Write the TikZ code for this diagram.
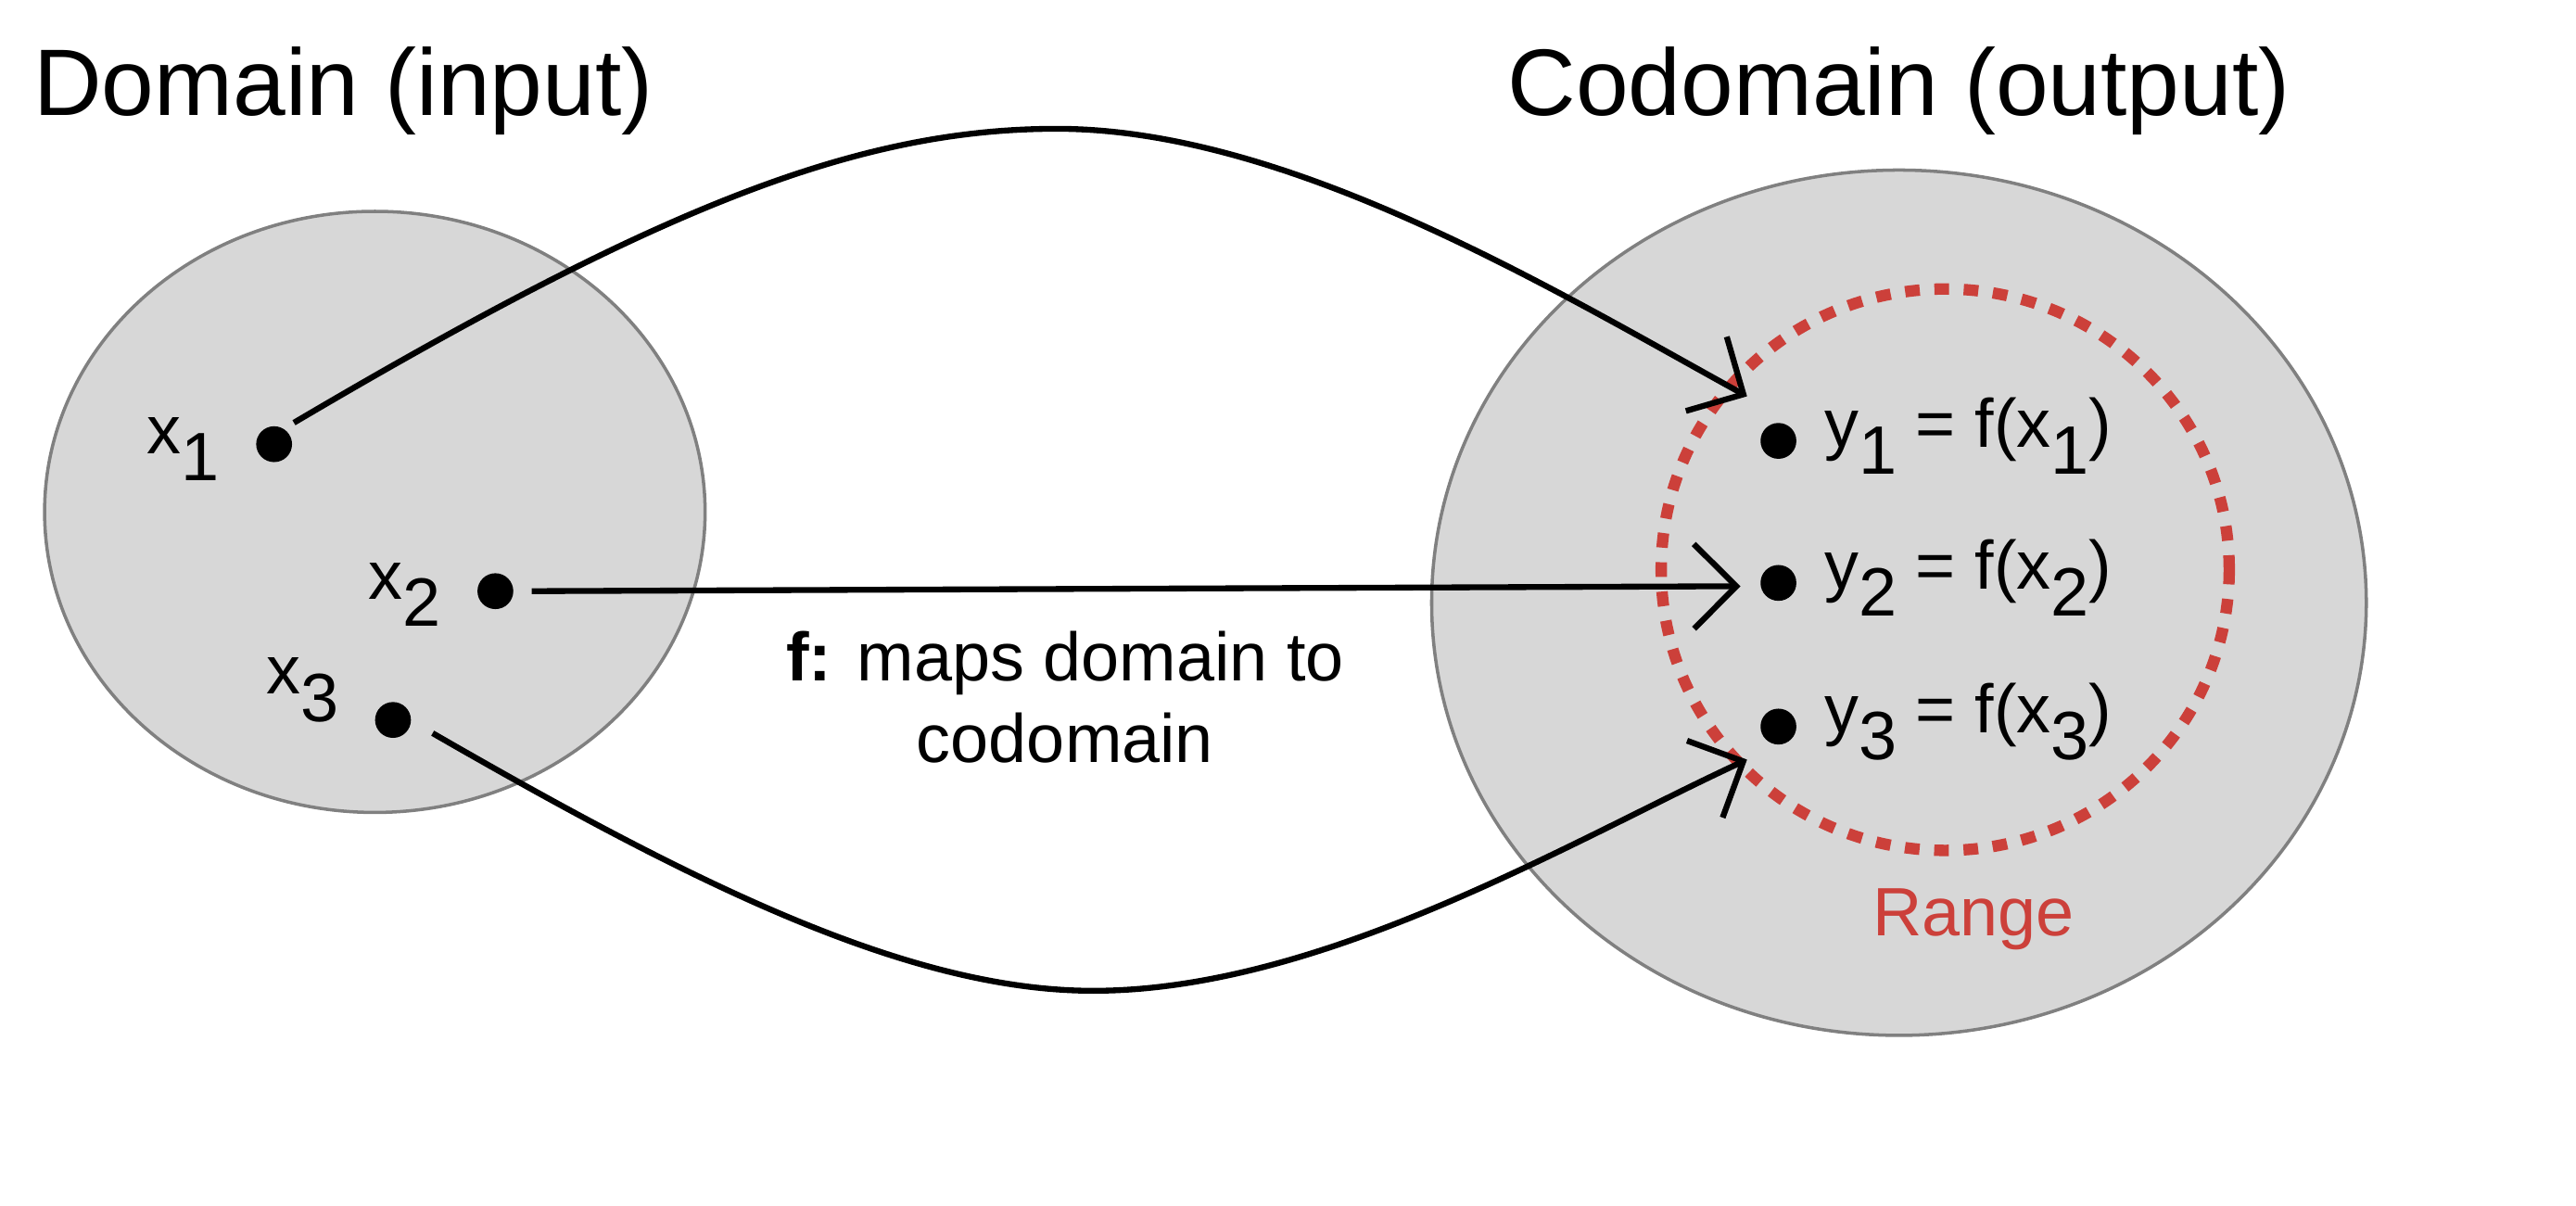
\documentclass[tikz,border=0pt]{standalone}
\usepackage{fontspec}
\setmainfont{Liberation Sans}
\usetikzlibrary{arrows.meta}
\definecolor{setgray}{RGB}{215,215,215}
\definecolor{rangered}{RGB}{204,64,58}
\newcommand{\lowidx}[1]{\raisebox{-0.4em}{#1}}

\begin{document}
\begin{tikzpicture}[x=0.01781cm,y=-0.01781cm,
  set/.style={fill=setgray,draw=gray,line width=1pt},
  dot/.style={circle,fill=black,inner sep=0pt,minimum size=11pt},
  title/.style={font=\fontsize{29}{34}\selectfont},
  lbl/.style={font=\fontsize{21}{25}\selectfont},
  map/.style={line width=1.8pt,-{Straight Barb[length=13pt,width=26pt,line width=1.8pt]}}]
  \useasboundingbox (0,0) rectangle (1560,730);
  \filldraw[set] (227,310) ellipse [x radius=200,y radius=182];
  \filldraw[set] (1150,365) ellipse [x radius=283,y radius=262];
  \draw[rangered,line width=3.5pt,dash pattern=on 4.5pt off 4.5pt] (1178,345) ellipse [x radius=172,y radius=170];

  \node[title] (dom) at (208,55) {Domain (input)};
  \node[title] (cod) at (1150,55) {Codomain (output)};

  \node[dot] (x1) at (166,269) {};
  \node[dot] (x2) at (300,358) {};
  \node[dot] (x3) at (238,436) {};
  \node[dot] (y1) at (1077,267) {};
  \node[dot] (y2) at (1077,353) {};
  \node[dot] (y3) at (1077,440) {};

  \node[lbl,anchor=east] (lx1) at (140,272) {x\lowidx{1}};
  \node[lbl,anchor=east] (lx2) at (274,360) {x\lowidx{2}};
  \node[lbl,anchor=east] (lx3) at (212,418) {x\lowidx{3}};
  \node[lbl,anchor=west] (ly1) at (1098,264) {y\lowidx{1} = f(x\lowidx{1})};
  \node[lbl,anchor=west] (ly2) at (1098,350) {y\lowidx{2} = f(x\lowidx{2})};
  \node[lbl,anchor=west] (ly3) at (1098,437) {y\lowidx{3} = f(x\lowidx{3})};
  \node[lbl,text=rangered] (rng) at (1195,557) {Range};
  \node[lbl,align=center] (fmap) at (645,422) {\textbf{f:} maps domain to\\codomain};

  \coordinate (s1) at (178,256);
  \coordinate (top) at (640,78);
  \coordinate (e1) at (1058,240);
  \coordinate (s2) at (322,358);
  \coordinate (e2) at (1054,355);
  \coordinate (s3) at (262,444);
  \coordinate (bot) at (662,600);
  \coordinate (e3) at (1058,460);
  \draw[map] (s1) .. controls (400,125) and (520,78) .. (top) .. controls (780,78) and (940,175) .. (e1);
  \draw[map] (s2) -- (e2);
  \draw[map] (s3) .. controls (420,535) and (550,600) .. (bot) .. controls (800,600) and (950,510) .. (e3);
\end{tikzpicture}
\end{document}
